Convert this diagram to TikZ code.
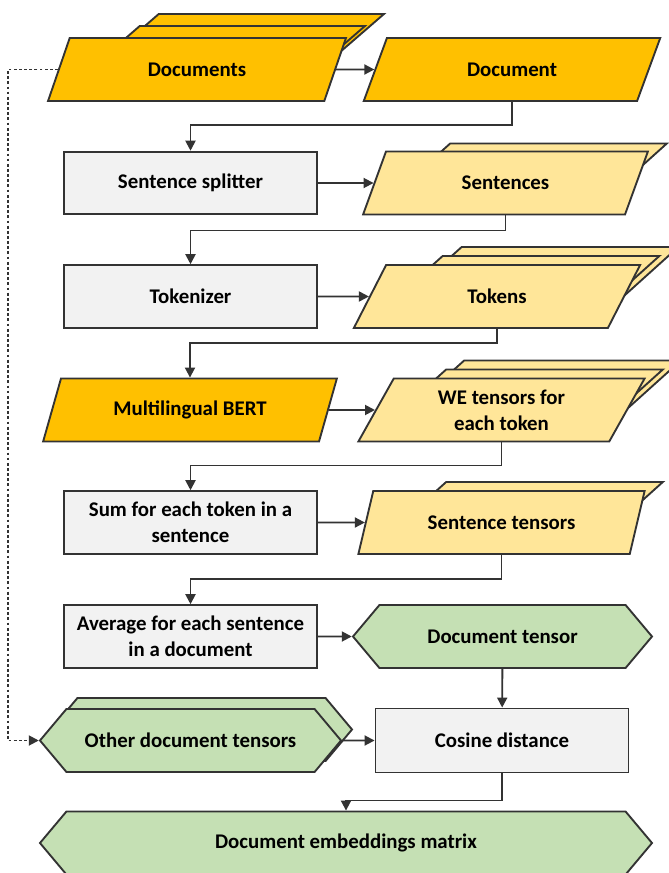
\documentclass[tikz,border=0pt]{standalone}
\usepackage{fontspec}
\setmainfont{Carlito}
\usetikzlibrary{shapes.geometric, shapes.symbols, arrows.meta}

\definecolor{edge}{HTML}{333333}
\definecolor{gold}{HTML}{FFC000}
\definecolor{sand}{HTML}{FFE699}
\definecolor{boxgray}{HTML}{F2F2F2}
\definecolor{leaf}{HTML}{C5E0B4}

\begin{document}
\begin{tikzpicture}[x=0.03cm, y=-0.03cm,
    font=\fontsize{17.8}{22.2}\selectfont\bfseries,
    every node/.style={draw=edge, line width=1.6pt, align=center, inner sep=2pt},
    proc/.style={rectangle, fill=boxgray, minimum width=7.59cm, minimum height=1.88cm},
    data/.style={trapezium, trapezium left angle=64.5, trapezium right angle=115.5,
        trapezium stretches=true, minimum width=8.6cm, minimum height=1.89cm},
    tensor/.style={signal, signal to=east and west, signal pointer angle=100,
        fill=leaf, minimum width=8.97cm, minimum height=1.89cm},
    arr/.style={draw=edge, line width=1.6pt, -{Triangle[length=3mm, width=3mm]}},
    dasharr/.style={arr, dash pattern=on 2.4pt off 2pt}]
    \useasboundingbox (0,0) rectangle (668,873);
    % Define nodes
    \node[data, fill=gold, minimum width=8.94cm] (docs3) at (235,45.5) {};
    \node[data, fill=gold, minimum width=8.94cm] (docs2) at (216,57.5) {};
    \node[data, fill=gold, minimum width=8.94cm] (docs) at (197,69.5) {Documents};
    \node[data, fill=gold, minimum width=8.94cm] (doc) at (512,69.5) {Document};
    \node[proc] (split) at (190.5,183) {Sentence splitter};
    \node[data, fill=sand] (sents2) at (523.5,175) {};
    \node[data, fill=sand] (sents) at (505.5,183) {Sentences};
    \node[proc] (tok) at (190.5,296.5) {Tokenizer};
    \node[data, fill=sand] (toks3) at (535,278.5) {};
    \node[data, fill=sand] (toks2) at (516,287.5) {};
    \node[data, fill=sand] (toks) at (497,296.5) {Tokens};
    \node[data, fill=gold, minimum width=8.82cm] (bert) at (190,410) {Multilingual BERT};
    \node[data, fill=sand] (we3) at (537.5,392) {};
    \node[data, fill=sand] (we2) at (519.5,401) {};
    \node[data, fill=sand] (we) at (501.5,410) {WE tensors for\\each token};
    \node[proc] (sum) at (190.5,522.5) {Sum for each token in a\\sentence};
    \node[data, fill=sand] (stens2) at (519.5,513.5) {};
    \node[data, fill=sand] (stens) at (501.5,522.5) {Sentence tensors};
    \node[proc] (avg) at (190.5,636.5) {Average for each sentence\\in a document};
    \node[tensor] (dten) at (502.5,636.5) {Document tensor};
    \node[tensor, minimum width=9.03cm] (other2) at (201.5,729.5) {};
    \node[tensor, minimum width=9.03cm] (other) at (190.5,740.5) {Other document tensors};
    \node[proc, minimum height=1.92cm] (cos) at (502,740.5) {Cosine distance};
    \node[tensor, minimum width=18.36cm] (emb) at (346,843) {Document embeddings matrix};
    % Draw edges
    \draw[arr] (docs) -- (doc);
    \draw[arr] (doc.center |- doc.bottom side) -- ++(0,23) -| (split.north);
    \draw[arr] (split) -- (sents);
    \draw[arr] (sents.center |- sents.bottom side) -- ++(0,15) -| (tok.north);
    \draw[arr] (tok) -- (toks);
    \draw[arr] (toks.center |- toks.bottom side) -- ++(0,14) -| (bert.center |- bert.top side);
    \draw[arr] (bert) -- (we);
    \draw[arr] (we.center |- we.bottom side) -- ++(0,23) -| (sum.north);
    \draw[arr] (sum) -- (stens);
    \draw[arr] (stens.center |- stens.bottom side) -- ++(0,24) -| (avg.north);
    \draw[arr] (avg) -- (dten);
    \draw[arr] (dten) -- (cos);
    \draw[arr] (other) -- (cos);
    \draw[arr] (cos.south) -- ++(0,27) -| (emb.north);
    \draw[dasharr] (docs.left side) -- ++(-50,0) |- (other.west);
\end{tikzpicture}
\end{document}
